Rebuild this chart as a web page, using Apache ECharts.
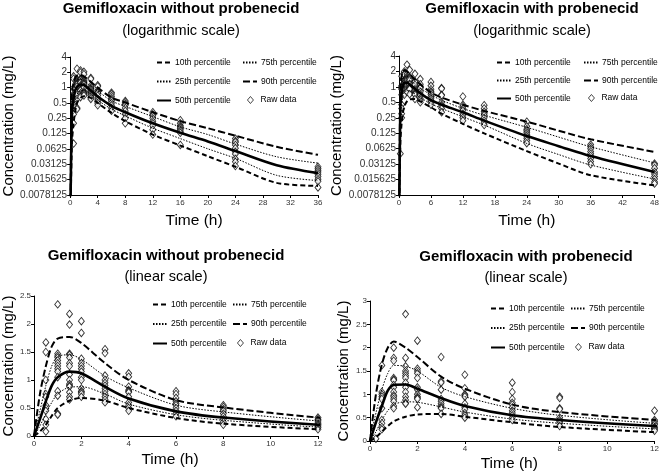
<!DOCTYPE html>
<html><head><meta charset="utf-8">
<script src="https://cdn.jsdelivr.net/npm/echarts@6/dist/echarts.min.js"></script>
<style>html,body{margin:0;padding:0;background:#fff}#c{width:662px;height:475px}</style>
</head><body><div id="c"></div>
<script>
// ---- Gemifloxacin without probenecid: simulated percentiles ----
const timesWithout = [0,0.25,0.5,0.75,1,1.5,2,3,4,6,8,12,16,20,24,30,36];
const without10 = [0,0.08,0.2,0.36,0.5,0.63,0.68,0.63,0.5,0.32,0.22,0.12,0.073,0.045,0.028,0.0135,0.0118];
const without25 = [0,0.18,0.4,0.6,0.75,0.87,0.88,0.75,0.57,0.38,0.28,0.16,0.10,0.063,0.041,0.019,0.015];
const without50 = [0,0.3,0.62,0.9,1.05,1.15,1.12,0.88,0.67,0.44,0.33,0.2,0.13,0.088,0.057,0.030,0.021];
const without75 = [0,0.45,0.9,1.25,1.42,1.45,1.37,1.07,0.86,0.55,0.43,0.27,0.17,0.12,0.078,0.044,0.033];
const without90 = [0,0.75,1.25,1.6,1.74,1.77,1.66,1.3,1.0,0.64,0.51,0.33,0.22,0.16,0.114,0.069,0.048];

// ---- Gemifloxacin with probenecid: simulated percentiles ----
const timesWith = [0,0.25,0.5,0.75,1,1.5,2,3,4,6,8,12,16,24,30,36,48];
const with10 = [0,0.08,0.2,0.32,0.42,0.52,0.57,0.58,0.52,0.4,0.3,0.19,0.124,0.056,0.032,0.019,0.012];
const with25 = [0,0.2,0.45,0.65,0.78,0.84,0.83,0.73,0.62,0.47,0.38,0.26,0.18,0.079,0.048,0.030,0.016];
const with50 = [0,0.4,0.75,1.08,1.2,1.21,1.12,0.92,0.75,0.55,0.45,0.32,0.22,0.11,0.07,0.045,0.022];
const with75 = [0,0.6,1.1,1.45,1.62,1.6,1.5,1.15,0.95,0.7,0.55,0.38,0.28,0.163,0.105,0.068,0.033];
const with90 = [0,1.0,1.64,2.0,2.13,2.0,1.8,1.38,1.12,0.78,0.62,0.45,0.34,0.21,0.14,0.095,0.054];

// ---- Raw observed concentrations ----
const rawWithoutT = [0.5,1,1.5,2,3,4,6,8,12,16,24,36];
const rawWithoutC = [
  [1.67,1.5,1.0,0.75,0.7,0.55,0.5,0.45,0.3,0.2,0.08],
  [2.35,1.47,1.43,1.4,1.35,1.3,1.25,1.2,1.15,1.05,0.8,0.72,0.4,0.38],
  [2.18,1.99,1.47,1.45,1.4,1.3,1.25,1.1,1.0,0.93,0.9,0.88,0.78,0.7,0.65],
  [2.05,1.84,1.38,1.3,1.25,1.2,1.15,1.05,1.0,0.85,0.8,0.78,0.75,0.7],
  [1.55,1.48,1.08,1.0,0.95,0.9,0.85,0.8,0.75,0.7,0.65,0.6],
  [1.12,1.06,0.88,0.82,0.8,0.78,0.7,0.6,0.55,0.5,0.45],
  [0.8,0.75,0.68,0.62,0.58,0.55,0.5,0.45,0.4,0.35],
  [0.55,0.52,0.48,0.45,0.4,0.35,0.3,0.25,0.2],
  [0.33,0.3,0.28,0.25,0.22,0.2,0.18,0.15,0.12],
  [0.23,0.2,0.18,0.17,0.16,0.15,0.14,0.13,0.075],
  [0.1,0.09,0.085,0.075,0.065,0.055,0.05,0.04,0.035,0.029],
  [0.028,0.026,0.024,0.022,0.02,0.018,0.016,0.0145,0.011]
];
const rawWithT = [0.25,0.5,1,1.5,2,3,4,6,8,12,16,24,36,48];
const rawWithC = [
  [0.05],
  [1.62,1.05,1.0,0.95,0.9,0.7,0.45,0.38,0.3,0.25],
  [2.0,1.78,1.72,1.35,1.32,1.3,1.2,1.15,1.05,0.98,0.95,0.9,0.85,0.75,0.7],
  [2.72,1.78,1.6,1.5,1.45,1.4,1.35,1.25,1.15,1.05,0.95,0.88,0.82,0.8],
  [2.15,1.55,1.5,1.45,1.35,1.15,1.1,1.0,0.95,0.92,0.9,0.72],
  [1.8,1.28,1.25,1.1,0.9,0.85,0.8,0.75,0.72,0.7,0.58],
  [1.42,1.13,1.0,0.98,0.95,0.8,0.72,0.68,0.6,0.55,0.5],
  [1.25,1.05,0.9,0.82,0.78,0.72,0.65,0.6,0.55,0.5,0.45],
  [0.95,0.92,0.7,0.68,0.5,0.45,0.42,0.38,0.32],
  [0.65,0.45,0.42,0.38,0.35,0.3,0.28,0.25,0.22],
  [0.44,0.38,0.33,0.3,0.28,0.25,0.22,0.2,0.18],
  [0.21,0.17,0.15,0.14,0.13,0.12,0.11,0.1,0.09,0.08],
  [0.075,0.068,0.062,0.055,0.05,0.045,0.04,0.035,0.031],
  [0.032,0.03,0.026,0.022,0.02,0.018,0.016,0.014,0.013]
];

const seriesNames = ['10th percentile','25th percentile','50th percentile','75th percentile','90th percentile','Raw data'];
const titlesMain = ['Gemifloxacin without probenecid','Gemifloxacin with probenecid','Gemifloxacin without probenecid','Gemifloxacin with probenecid'];
const titlesSub = ['(logarithmic scale)','(logarithmic scale)','(linear scale)','(linear scale)'];
const xTitle = 'Time (h)';
const yTitle = 'Concentration (mg/L)';

const lineStyles = [
  {type:[5,3], width:2},
  {type:[1.5,1.5], width:1},
  {type:'solid', width:2.6},
  {type:[1.5,1.5], width:1},
  {type:[7,3], width:2}
];

const panels = [
  {grid:{left:60, top:57, width:258, height:138}, log:true, xMax:36, xInt:4, times:timesWithout, p:[without10,without25,without50,without75,without90], rawT:rawWithoutT, rawC:rawWithoutC,
   tx:181, ty:1, sy:23, yGap:42, xGap:18, xPad:[0,0,0,0], leg:[156,242,58,10]},
  {grid:{left:399, top:56, width:258, height:139}, log:true, xMax:48, xInt:6, times:timesWith, p:[with10,with25,with50,with75,with90], rawT:rawWithT, rawC:rawWithC,
   tx:532, ty:1, sy:23, yGap:51, xGap:18, xPad:[0,0,0,0], leg:[496,583,58,9]},
  {grid:{left:32, top:296, width:286, height:140}, log:false, yMax:2.5, xMax:12, xInt:2, times:timesWithout, p:[without10,without25,without50,without75,without90], rawT:rawWithoutT, rawC:rawWithoutC,
   tx:166, ty:248, sy:269, yGap:15, xGap:16, xPad:[0,12,0,0], leg:[152,232,300,10.5]},
  {grid:{left:370, top:301, width:286, height:140}, log:false, yMax:3, xMax:12, xInt:2, times:timesWith, p:[with10,with25,with50,with75,with90], rawT:rawWithT, rawC:rawWithC,
   tx:526, ty:249, sy:270, yGap:19, xGap:15, xPad:[0,6,0,0], leg:[490,570,304,10.5]}
];

const option = {animation:false, backgroundColor:'#fff', title:[], grid:[], xAxis:[], yAxis:[], series:[], legend:[]};
const FONT = 'Liberation Sans, Arial, sans-serif';
const hiddenSymbol = {color:'rgba(0,0,0,0)', borderColor:'rgba(0,0,0,0)', borderWidth:0, opacity:0};
const diamondStyle = {color:'#fff', borderColor:'#000', borderWidth:0.9};

panels.forEach((P, i) => {
  option.title.push({text:titlesMain[i], left:P.tx, top:P.ty, textAlign:'center', padding:0,
    textStyle:{fontFamily:FONT, fontSize:15, fontWeight:'bold', color:'#000'}});
  option.title.push({text:titlesSub[i], left:P.tx, top:P.sy, textAlign:'center', padding:0,
    textStyle:{fontFamily:FONT, fontSize:14.5, fontWeight:'normal', color:'#000'}});
  option.grid.push(P.grid);
  option.xAxis.push({type:'value', gridIndex:i, min:0, max:P.xMax, interval:P.xInt,
    axisLine:{lineStyle:{color:'#000', width:1}}, axisTick:{length:3, lineStyle:{color:'#000'}},
    splitLine:{show:false}, axisLabel:{fontFamily:FONT, fontSize:8, color:'#333', margin:4},
    name:xTitle, nameLocation:'middle', nameGap:P.xGap,
    nameTextStyle:{fontFamily:FONT, fontSize:15.5, color:'#000', padding:P.xPad}});
  const ya = {gridIndex:i, axisLine:{show:true, lineStyle:{color:'#000', width:1}},
    axisTick:{show:true, length:3, lineStyle:{color:'#000'}}, splitLine:{show:false},
    name:yTitle, nameLocation:'middle', nameGap:P.yGap,
    nameTextStyle:{fontFamily:FONT, fontSize:15, color:'#000'}};
  if (P.log) {
    Object.assign(ya, {type:'log', logBase:2, min:0.0078125, max:4, splitNumber:9,
      axisLabel:{fontFamily:FONT, fontSize:10, color:'#333', margin:3, formatter:v => String(+(+v).toPrecision(8))}});
  } else {
    Object.assign(ya, {type:'value', min:0, max:P.yMax, interval:0.5,
      axisLabel:{fontFamily:FONT, fontSize:8, color:'#333', margin:3}});
  }
  option.yAxis.push(ya);

  // raw data scatter
  const pts = [];
  P.rawT.forEach((t, k) => P.rawC[k].forEach(c => { if (t <= P.xMax) pts.push([t, c]); }));
  option.series.push({type:'scatter', name:seriesNames[5], xAxisIndex:i, yAxisIndex:i, data:pts,
    symbol:'diamond', symbolSize:[6,7.5], itemStyle:diamondStyle, z:2});
  // percentile lines
  P.p.forEach((arr, j) => {
    const data = P.times.map((t, k) => [t, (P.log && arr[k] === 0) ? 0.001 : arr[k]]);
    option.series.push({type:'line', name:seriesNames[j], xAxisIndex:i, yAxisIndex:i, data:data,
      smooth:0.3, symbol:'none', clip:true, lineStyle:Object.assign({color:'#000'}, lineStyles[j]),
      itemStyle:{color:'#000'}, z:3});
  });

  const rowH = 8.5 + P.leg[3];
  const legBase = {orient:'vertical', top:P.leg[2], padding:0, itemWidth:14, itemHeight:8, itemGap:P.leg[3],
    selectedMode:false, textStyle:{fontFamily:FONT, fontSize:8.5, color:'#000', padding:[0,0,0,-1]}};
  option.legend.push(Object.assign({}, legBase, {left:P.leg[0],
    data:seriesNames.slice(0,3).map(n => ({name:n, itemStyle:hiddenSymbol}))}));
  option.legend.push(Object.assign({}, legBase, {left:P.leg[1],
    data:seriesNames.slice(3,5).map(n => ({name:n, itemStyle:hiddenSymbol}))}));
  option.legend.push(Object.assign({}, legBase, {left:P.leg[1] + 5, top:P.leg[2] + 2 * rowH + 0.5,
    itemWidth:6, itemHeight:7, itemStyle:diamondStyle,
    data:[{name:seriesNames[5], icon:'diamond', itemStyle:diamondStyle}],
    textStyle:{fontFamily:FONT, fontSize:8.5, color:'#000', padding:[0,0,0,2]}}));
});

const chart = echarts.init(document.getElementById('c'), null, {renderer:'canvas'});
chart.setOption(option);
</script></body></html>
